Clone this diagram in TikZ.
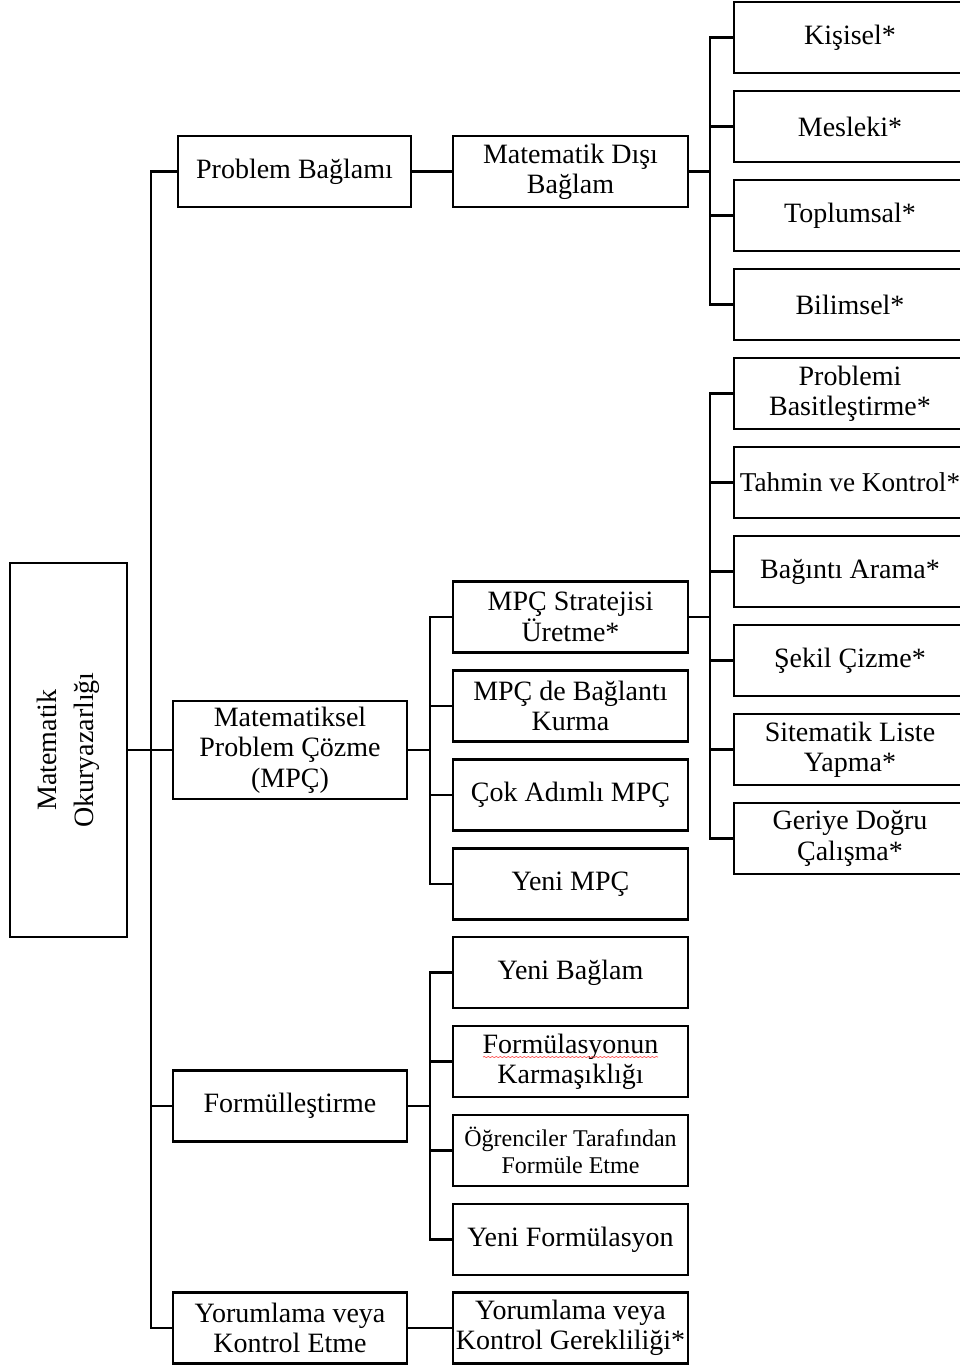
\documentclass[tikz,border=0pt]{standalone}
\usepackage{fontspec}
\setmainfont{Liberation Serif}
\usepackage{graphicx}
\usetikzlibrary{decorations.pathmorphing}
\begin{document}
\begin{tikzpicture}[x=0.75pt,y=-0.75pt,
  line width=2pt, line join=miter,
  box/.style={draw, line width=2pt, align=center, inner sep=0pt,
    font=\fontsize{21}{22.8}\selectfont},
  rootbox/.style={box, minimum width=87.75pt, minimum height=280.5pt},
  lvtwo/.style={box, minimum width=175.5pt, minimum height=53.25pt},
  lvthree/.style={box, minimum width=176.25pt, minimum height=53.25pt},
  lvfour/.style={box, minimum width=174pt, minimum height=53.25pt},
  smalltext/.style={font=\fontsize{18}{20.5}\selectfont},
  squiggle/.style={draw=red!70, line width=0.5pt,
    decorate, decoration={snake, amplitude=0.4pt, segment length=3pt}}
]
\clip (0,0) rectangle (960,1365);

% root
\node[rootbox] (root) at (68.5,750)
  {\rotatebox{90}{\begin{tabular}{@{}c@{}}Matematik\\[5pt]Okuryazarlığı\end{tabular}}};

% second level
\node[lvtwo, minimum width=174.75pt] (pb) at (294.5,171.5) {Problem Bağlamı};
\node[lvtwo, minimum height=73.5pt] (mpc) at (290,750) {Matematiksel\\Problem Çözme\\(MPÇ)};
\node[lvtwo] (frm) at (290,1106) {Formülleştirme};
\node[lvtwo] (yor) at (290,1328) {Yorumlama veya\\Kontrol Etme};

% third level
\node[lvthree] (mdb) at (570.5,171.5) {Matematik Dışı\\Bağlam};
\node[lvthree] (str) at (570.5,617) {MPÇ Stratejisi\\Üretme*};
\node[lvthree] (bag) at (570.5,706) {MPÇ de Bağlantı\\Kurma};
\node[lvthree] (cok) at (570.5,795) {Çok Adımlı MPÇ};
\node[lvthree] (yeni) at (570.5,884) {Yeni MPÇ};
\node[lvthree] (ybag) at (570.5,972.5) {Yeni Bağlam};
\node[lvthree] (karm) at (570.5,1061.5) {Formülasyonun\\Karmaşıklığı};
\node[lvthree, smalltext] (ogr) at (570.5,1150.5) {Öğrenciler Tarafından\\Formüle Etme};
\node[lvthree] (yfor) at (570.5,1239.5) {Yeni Formülasyon};
\node[lvthree] (ygr) at (570.5,1328) {Yorumlama veya\\Kontrol Gerekliliği*};

% fourth level
\node[lvfour] (kis) at (850,37.5) {Kişisel*};
\node[lvfour] (mes) at (850,126.5) {Mesleki*};
\node[lvfour] (top) at (850,215.5) {Toplumsal*};
\node[lvfour] (bil) at (850,304.5) {Bilimsel*};
\node[lvfour] (bas) at (850,393.5) {Problemi\\Basitleştirme*};
\node[lvfour, font=\fontsize{20.4}{22.8}\selectfont] (tah) at (850,482.5) {Tahmin ve Kontrol*};
\node[lvfour] (ara) at (850,571.5) {Bağıntı Arama*};
\node[lvfour] (sek) at (850,660.5) {Şekil Çizme*};
\node[lvfour] (lis) at (850,749.5) {Sitematik Liste\\Yapma*};
\node[lvfour] (ger) at (850,838.5) {Geriye Doğru\\Çalışma*};

% spell-check mark under one label
\draw[squiggle] (483,1057) -- (658,1057);

% bus lines
\coordinate (trunk) at (151,0);
\coordinate (busB) at (430,0);
\coordinate (busC) at (710,0);

% root trunk
\draw (pb.west) -- (pb.west -| trunk) -- (yor.west -| trunk) -- (yor.west);
\draw (root.east) -- (root.east -| trunk);
\draw (mpc.west -| trunk) -- (mpc.west);
\draw (frm.west -| trunk) -- (frm.west);

% problem context
\draw (pb.east) -- (mdb.west);
\draw (kis.west) -- (kis.west -| busC) -- (bil.west -| busC) -- (bil.west);
\draw (mdb.east) -- (mdb.east -| busC);
\draw (mes.west -| busC) -- (mes.west);
\draw (top.west -| busC) -- (top.west);

% problem solving
\draw (str.west) -- (str.west -| busB) -- (yeni.west -| busB) -- (yeni.west);
\draw (mpc.east) -- (mpc.east -| busB);
\draw (bag.west -| busB) -- (bag.west);
\draw (cok.west -| busB) -- (cok.west);

% strategies
\draw (bas.west) -- (bas.west -| busC) -- (ger.west -| busC) -- (ger.west);
\draw (str.east) -- (str.east -| busC);
\draw (tah.west -| busC) -- (tah.west);
\draw (ara.west -| busC) -- (ara.west);
\draw (sek.west -| busC) -- (sek.west);
\draw (lis.west -| busC) -- (lis.west);

% formulation
\draw (ybag.west) -- (ybag.west -| busB) -- (yfor.west -| busB) -- (yfor.west);
\draw (frm.east) -- (frm.east -| busB);
\draw (karm.west -| busB) -- (karm.west);
\draw (ogr.west -| busB) -- (ogr.west);

% interpretation
\draw (yor.east) -- (ygr.west);
\end{tikzpicture}
\end{document}
